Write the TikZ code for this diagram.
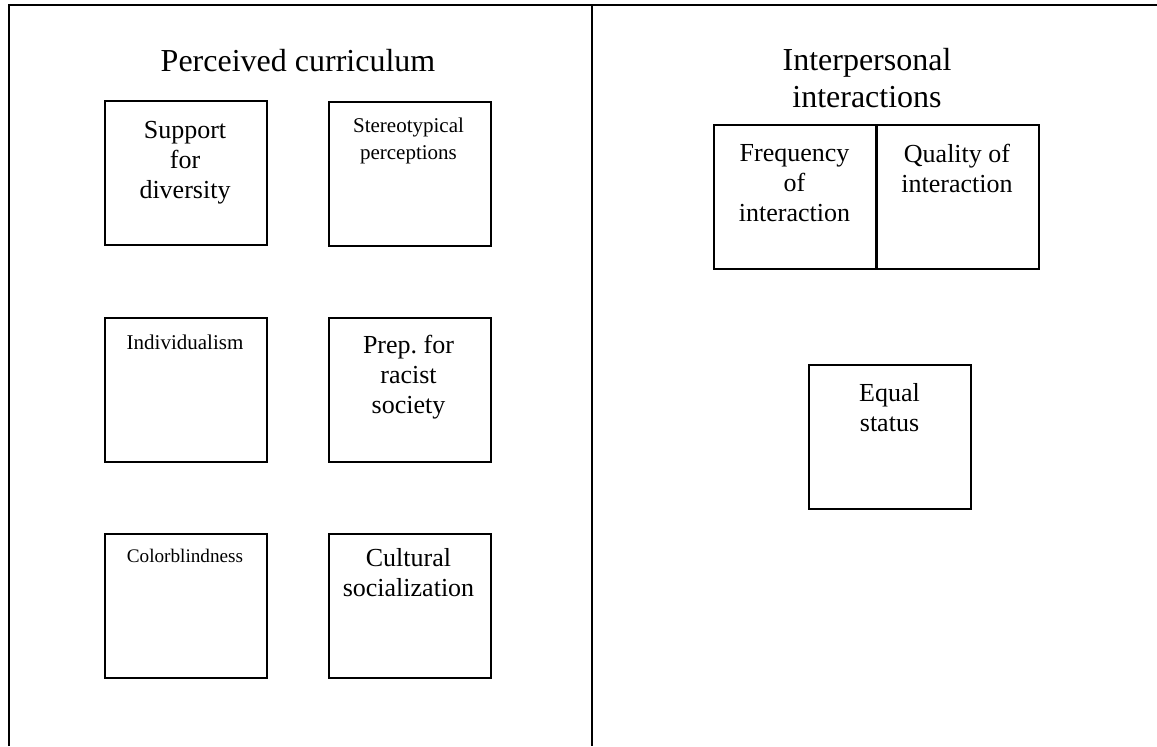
\documentclass[tikz,border=0pt]{standalone}
\usepackage{fontspec}
\setmainfont{Liberation Serif}
\frenchspacing
\begin{document}
\begin{tikzpicture}[x=0.5pt,y=-0.5pt,
  frame/.style={line width=1pt},
  boxnode/.style={draw, line width=1pt, rectangle, minimum width=81pt, minimum height=72pt, inner sep=0pt, anchor=north west},
  bigtxt/.style={anchor=north, align=center, inner sep=0pt, font=\fontsize{13}{15}\selectfont},
  smalltxt/.style={anchor=north, align=center, inner sep=0pt, font=\fontsize{10.5}{13.5}\selectfont},
  tinytxt/.style={anchor=north, align=center, inner sep=0pt, font=\fontsize{9.6}{12}\selectfont},
  titletxt/.style={anchor=north, align=center, inner sep=0pt, font=\fontsize{16}{18.5}\selectfont}]
\useasboundingbox (0,0) rectangle (1157,746);
% frame
\draw[frame] (8.5,746) -- (8.5,4.5) -- (1157,4.5);
\draw[frame] (592,4.5) -- (592,746);
% titles
\node[titletxt] (t1) at (298,49) {Perceived curriculum};
\node[titletxt] (t2) at (867,48) {Interpersonal\\interactions};
% left boxes
\node[boxnode] (b1) at (104,100) {};
\node[boxnode] (b2) at (327.5,100.5) {};
\node[boxnode] (b3) at (104,316.5) {};
\node[boxnode] (b4) at (327.5,316.5) {};
\node[boxnode] (b5) at (104,532.5) {};
\node[boxnode] (b6) at (327.5,532.5) {};
\node[bigtxt] (l1) at (185,121) {Support\\for\\diversity};
\node[smalltxt] (l2) at (408.5,118) {Stereotypical\\perceptions};
\node[smalltxt] (l3) at (185,335) {Individualism};
\node[bigtxt] (l4) at (408.5,335) {Prep. for\\racist\\society};
\node[tinytxt] (l5) at (185,549) {Colorblindness};
\node[bigtxt] (l6) at (408.5,548) {Cultural\\socialization};
% right boxes
\node[boxnode] (b7) at (713,124) {};
\node[boxnode] (b8) at (875.5,124) {};
\node[boxnode] (b9) at (808,364) {};
\node[bigtxt] (l7) at (794.5,144) {Frequency\\of\\interaction};
\node[bigtxt] (l8) at (957,144) {Quality of\\interaction};
\node[bigtxt] (l9) at (889.5,383) {Equal\\status};
\end{tikzpicture}
\end{document}
